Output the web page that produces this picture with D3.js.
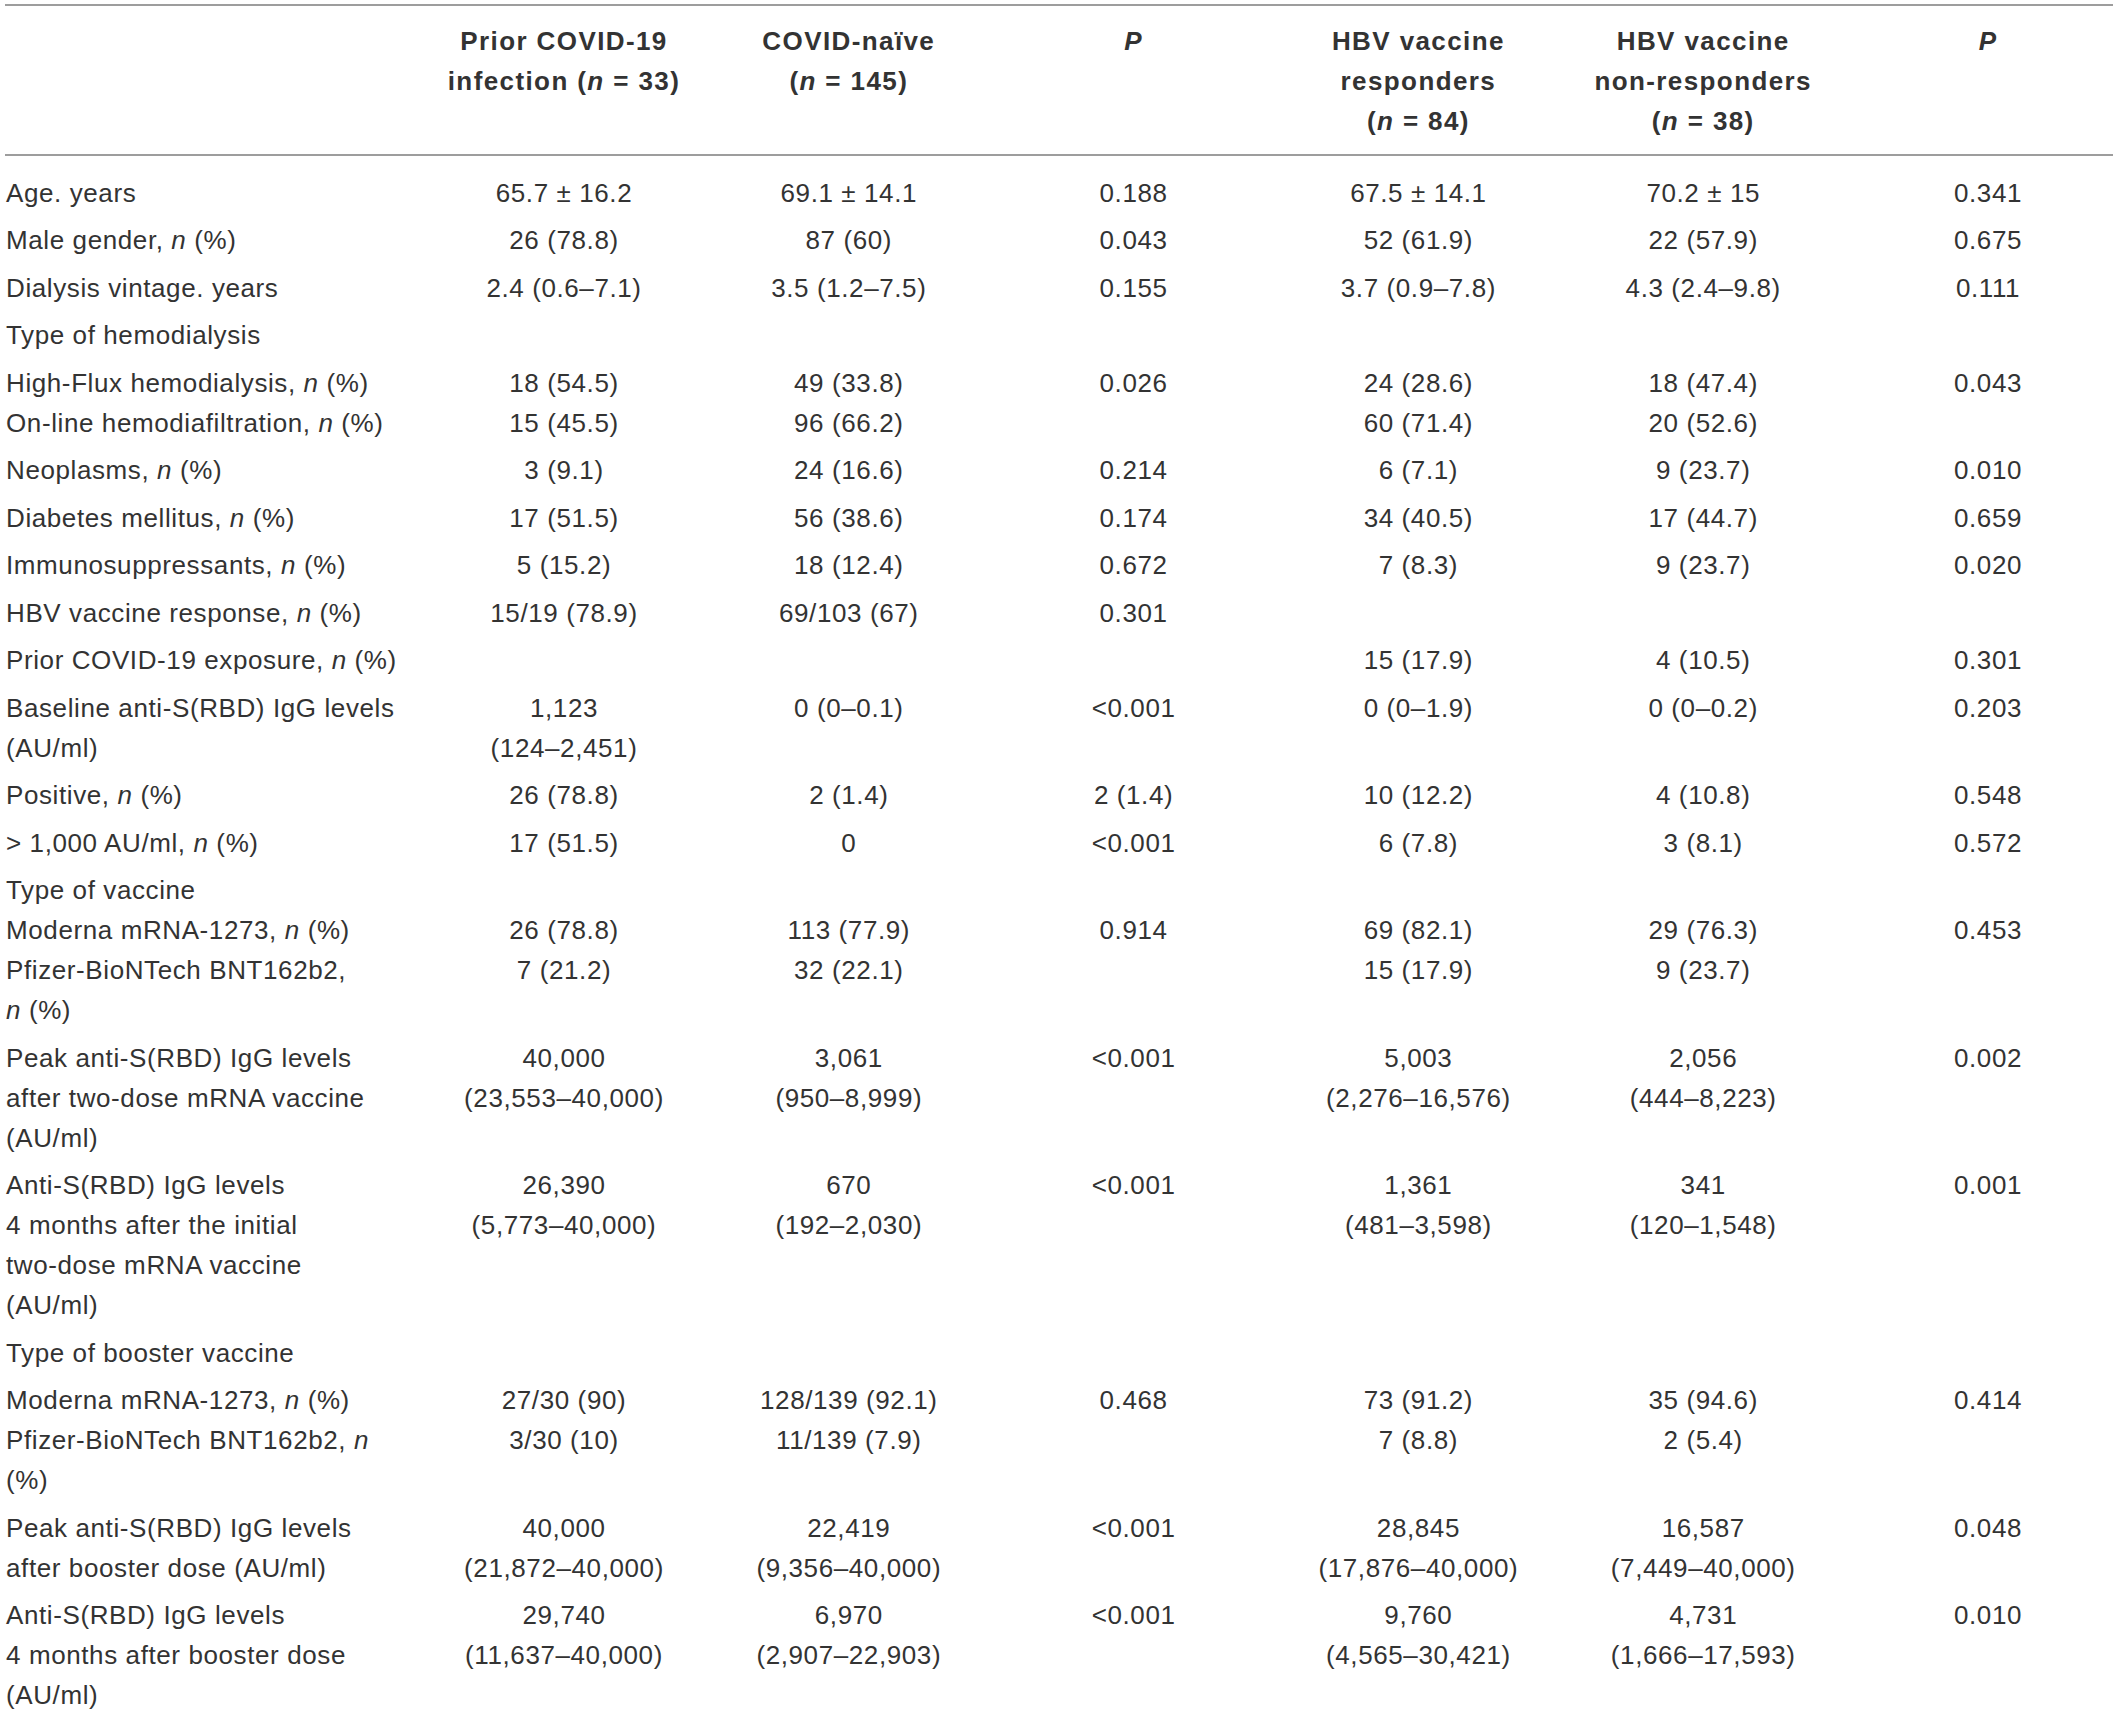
<!DOCTYPE html>
<html>
<head>
<meta charset="utf-8">
<script src="https://cdn.jsdelivr.net/npm/d3@7"></script>
<style>
  html, body { margin: 0; padding: 0; background: #fff; }
  svg text { font-family: "Liberation Sans", Arial, sans-serif; fill: #333; }
</style>
</head>
<body>
<div id="table"></div>
<script>
var svgWidth = 2118;
var svgHeight = 1718;

// Column headings, one array of lines per column (_x_ marks italic)
var headers = [
  ["Prior COVID-19", "infection (_n_ = 33)"],
  ["COVID-naïve", "(_n_ = 145)"],
  ["_P_"],
  ["HBV vaccine", "responders", "(_n_ = 84)"],
  ["HBV vaccine", "non-responders", "(_n_ = 38)"],
  ["_P_"]
];

// Row labels, one array of lines per row group
var rowLabels = [
  ["Age. years"],
  ["Male gender, _n_ (%)"],
  ["Dialysis vintage. years"],
  ["Type of hemodialysis"],
  ["High-Flux hemodialysis, _n_ (%)", "On-line hemodiafiltration, _n_ (%)"],
  ["Neoplasms, _n_ (%)"],
  ["Diabetes mellitus, _n_ (%)"],
  ["Immunosuppressants, _n_ (%)"],
  ["HBV vaccine response, _n_ (%)"],
  ["Prior COVID-19 exposure, _n_ (%)"],
  ["Baseline anti-S(RBD) IgG levels", "(AU/ml)"],
  ["Positive, _n_ (%)"],
  ["> 1,000 AU/ml, _n_ (%)"],
  ["Type of vaccine", "Moderna mRNA-1273, _n_ (%)", "Pfizer-BioNTech BNT162b2,", "_n_ (%)"],
  ["Peak anti-S(RBD) IgG levels", "after two-dose mRNA vaccine", "(AU/ml)"],
  ["Anti-S(RBD) IgG levels", "4 months after the initial", "two-dose mRNA vaccine", "(AU/ml)"],
  ["Type of booster vaccine"],
  ["Moderna mRNA-1273, _n_ (%)", "Pfizer-BioNTech BNT162b2, _n_", "(%)"],
  ["Peak anti-S(RBD) IgG levels", "after booster dose (AU/ml)"],
  ["Anti-S(RBD) IgG levels", "4 months after booster dose", "(AU/ml)"]
];

var priorCovid = [
  ["65.7 ± 16.2"], ["26 (78.8)"], ["2.4 (0.6–7.1)"], [""], ["18 (54.5)", "15 (45.5)"],
  ["3 (9.1)"], ["17 (51.5)"], ["5 (15.2)"], ["15/19 (78.9)"], [""],
  ["1,123", "(124–2,451)"], ["26 (78.8)"], ["17 (51.5)"], ["", "26 (78.8)", "7 (21.2)"],
  ["40,000", "(23,553–40,000)"], ["26,390", "(5,773–40,000)"], [""],
  ["27/30 (90)", "3/30 (10)"], ["40,000", "(21,872–40,000)"], ["29,740", "(11,637–40,000)"]
];

var covidNaive = [
  ["69.1 ± 14.1"], ["87 (60)"], ["3.5 (1.2–7.5)"], [""], ["49 (33.8)", "96 (66.2)"],
  ["24 (16.6)"], ["56 (38.6)"], ["18 (12.4)"], ["69/103 (67)"], [""],
  ["0 (0–0.1)"], ["2 (1.4)"], ["0"], ["", "113 (77.9)", "32 (22.1)"],
  ["3,061", "(950–8,999)"], ["670", "(192–2,030)"], [""],
  ["128/139 (92.1)", "11/139 (7.9)"], ["22,419", "(9,356–40,000)"], ["6,970", "(2,907–22,903)"]
];

var pCovid = [
  ["0.188"], ["0.043"], ["0.155"], [""], ["0.026"],
  ["0.214"], ["0.174"], ["0.672"], ["0.301"], [""],
  ["<0.001"], ["2 (1.4)"], ["<0.001"], ["", "0.914"],
  ["<0.001"], ["<0.001"], [""],
  ["0.468"], ["<0.001"], ["<0.001"]
];

var hbvResponders = [
  ["67.5 ± 14.1"], ["52 (61.9)"], ["3.7 (0.9–7.8)"], [""], ["24 (28.6)", "60 (71.4)"],
  ["6 (7.1)"], ["34 (40.5)"], ["7 (8.3)"], [""], ["15 (17.9)"],
  ["0 (0–1.9)"], ["10 (12.2)"], ["6 (7.8)"], ["", "69 (82.1)", "15 (17.9)"],
  ["5,003", "(2,276–16,576)"], ["1,361", "(481–3,598)"], [""],
  ["73 (91.2)", "7 (8.8)"], ["28,845", "(17,876–40,000)"], ["9,760", "(4,565–30,421)"]
];

var hbvNonResponders = [
  ["70.2 ± 15"], ["22 (57.9)"], ["4.3 (2.4–9.8)"], [""], ["18 (47.4)", "20 (52.6)"],
  ["9 (23.7)"], ["17 (44.7)"], ["9 (23.7)"], [""], ["4 (10.5)"],
  ["0 (0–0.2)"], ["4 (10.8)"], ["3 (8.1)"], ["", "29 (76.3)", "9 (23.7)"],
  ["2,056", "(444–8,223)"], ["341", "(120–1,548)"], [""],
  ["35 (94.6)", "2 (5.4)"], ["16,587", "(7,449–40,000)"], ["4,731", "(1,666–17,593)"]
];

var pHbv = [
  ["0.341"], ["0.675"], ["0.111"], [""], ["0.043"],
  ["0.010"], ["0.659"], ["0.020"], [""], ["0.301"],
  ["0.203"], ["0.548"], ["0.572"], ["", "0.453"],
  ["0.002"], ["0.001"], [""],
  ["0.414"], ["0.048"], ["0.010"]
];

var valueColumns = [priorCovid, covidNaive, pCovid, hbvResponders, hbvNonResponders, pHbv];

// Layout
var labelX = 6;
var lineStep = 40;      // between lines inside one cell
var groupStep = 47.5;   // from last line of a group to first line of the next
var headerTop = 50;
var bodyTop = 201.5;

var xScale = d3.scaleLinear()
  .domain([1, valueColumns.length])
  .range([564, 1988]);

// baseline of the first line of each group
var groupY = [];
var y = bodyTop;
rowLabels.forEach(function(lines, i) {
  groupY.push(y);
  y += (lines.length - 1) * lineStep + groupStep;
});

var svg = d3.select("#table")
  .append("svg")
  .attr("width", svgWidth)
  .attr("height", svgHeight);

// split "_n_" markers into tspans
function writeLine(textSel, str) {
  str.split("_").forEach(function(part, k) {
    if (part === "") return;
    textSel.append("tspan")
      .attr("font-style", k % 2 === 1 ? "italic" : null)
      .text(part);
  });
}

// Rules
svg.selectAll("line.rule")
  .data([5, 155])
  .enter()
  .append("line")
  .attr("class", "rule")
  .attr("x1", 5)
  .attr("x2", 2113)
  .attr("y1", d => d)
  .attr("y2", d => d)
  .attr("stroke", "#9d9d9d")
  .attr("stroke-width", 2);

// Header
var headerGroup = svg.append("g")
  .attr("font-weight", "bold")
  .attr("font-size", "26px")
  .attr("letter-spacing", "1.4px");

headers.forEach(function(lines, c) {
  lines.forEach(function(line, j) {
    var t = headerGroup.append("text")
      .attr("x", xScale(c + 1))
      .attr("y", headerTop + j * lineStep)
      .attr("text-anchor", "middle");
    writeLine(t, line);
  });
});

// Body
var bodyGroup = svg.append("g")
  .attr("font-size", "26px")
  .attr("letter-spacing", "0.6px");

rowLabels.forEach(function(lines, i) {
  lines.forEach(function(line, j) {
    var t = bodyGroup.append("text")
      .attr("x", labelX)
      .attr("y", groupY[i] + j * lineStep);
    writeLine(t, line);
  });
});

valueColumns.forEach(function(col, c) {
  col.forEach(function(lines, i) {
    lines.forEach(function(line, j) {
      if (line === "") return;
      var t = bodyGroup.append("text")
        .attr("x", xScale(c + 1))
        .attr("y", groupY[i] + j * lineStep)
        .attr("text-anchor", "middle");
      writeLine(t, line);
    });
  });
});
</script>
</body>
</html>
